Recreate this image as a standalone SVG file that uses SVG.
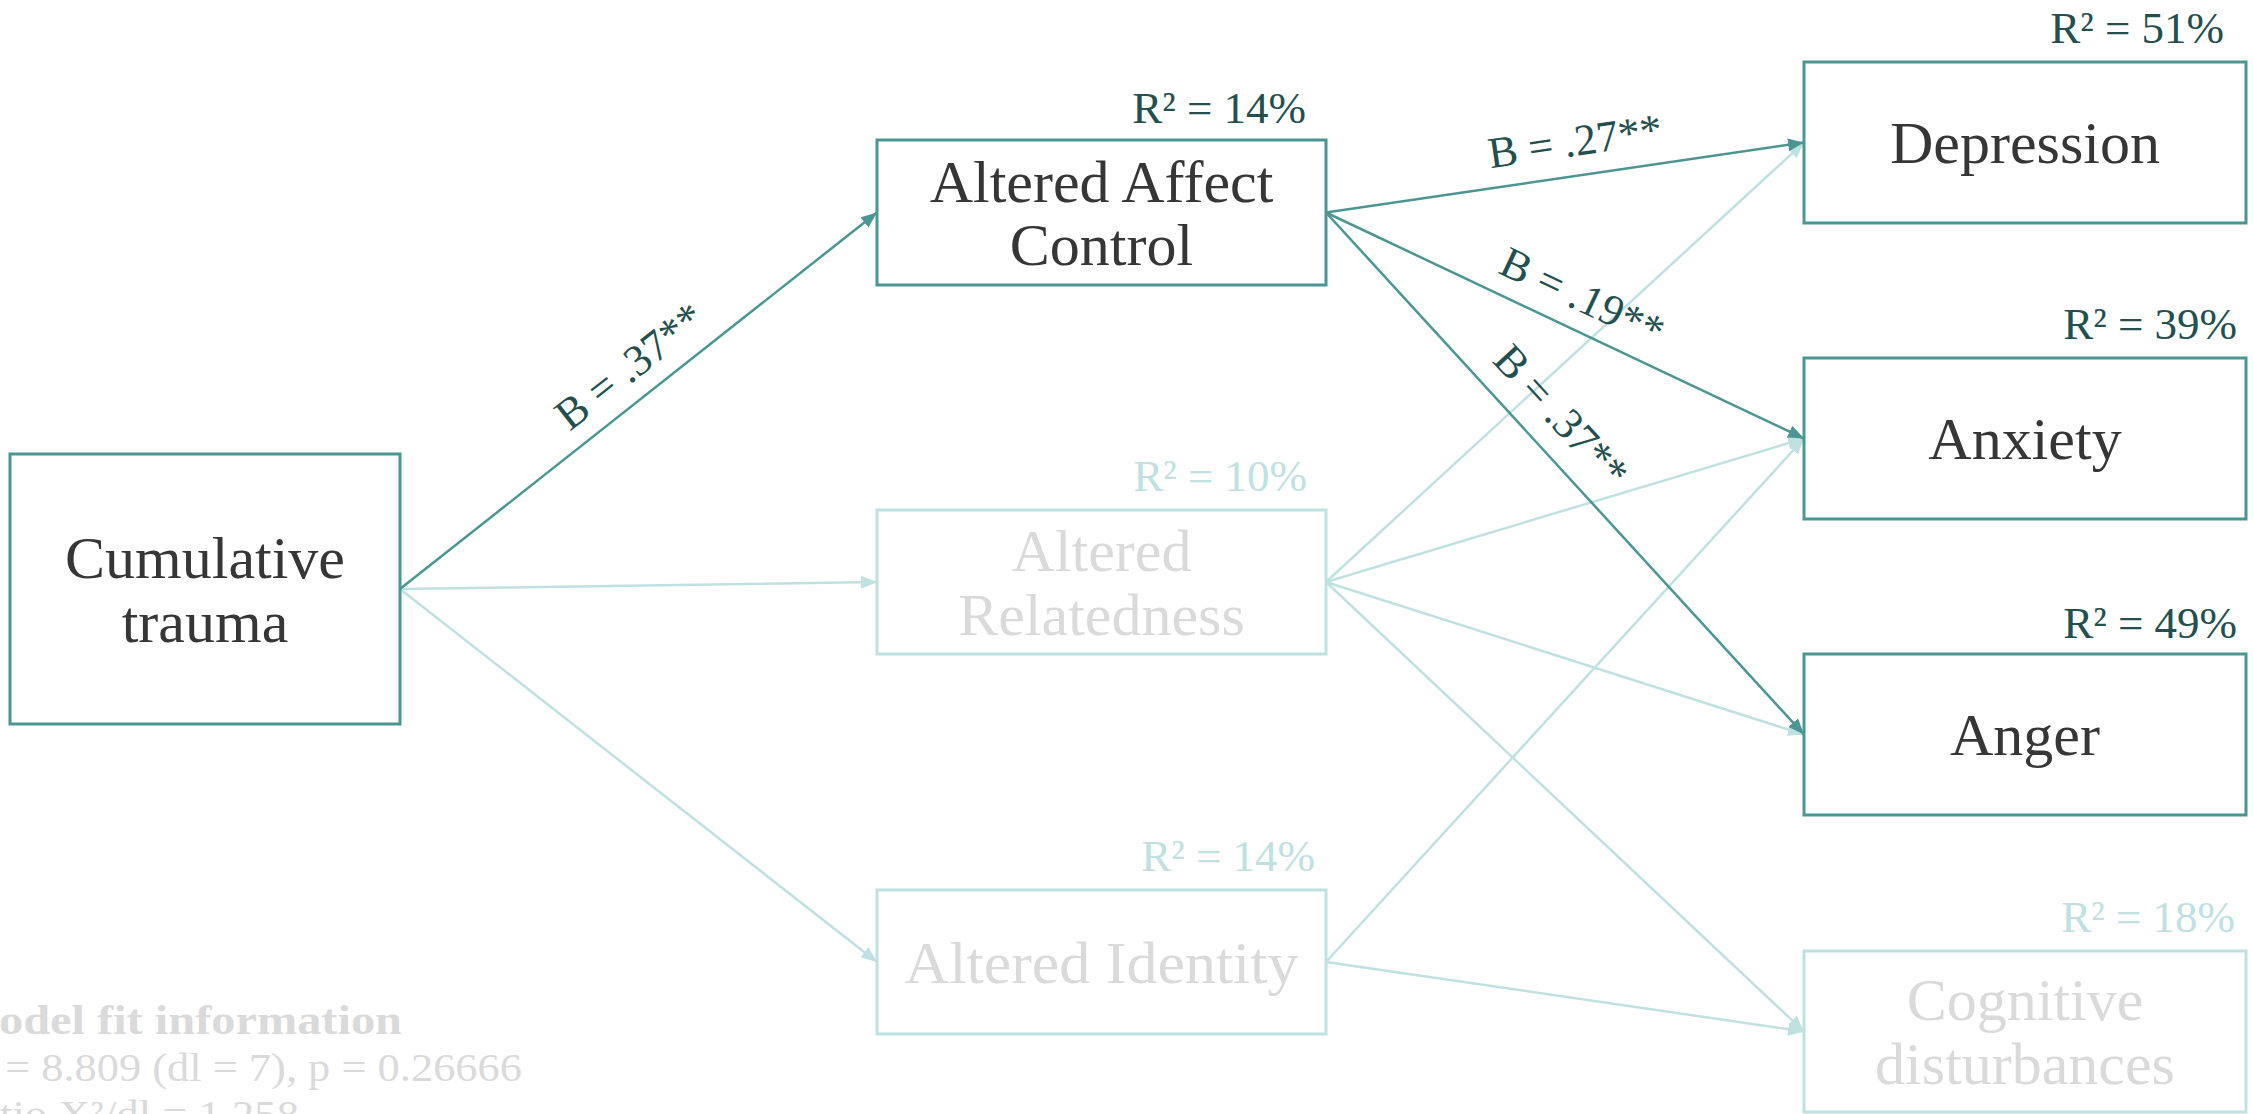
<svg xmlns="http://www.w3.org/2000/svg" width="2253" height="1114" viewBox="0 0 2253 1114">
  <style>
    .box { fill: #ffffff; stroke-width: 3; }
    .strong { stroke: #4b9693; }
    .weak { stroke: #bfe1e2; }
    .lbl { font-family: "Liberation Serif", "Times New Roman", serif; font-size: 60px; text-anchor: middle; }
    .lbl-on { fill: #363636; }
    .lbl-off { fill: #dadada; }
    .r2 { font-family: "Liberation Serif", "Times New Roman", serif; font-size: 45px; text-anchor: end; }
    .r2-on { fill: #234f4e; }
    .r2-off { fill: #bfe1e2; }
    .coef { font-family: "Liberation Serif", "Times New Roman", serif; font-size: 44px; text-anchor: middle; fill: #234f4e; }
    .edge { fill: none; stroke-width: 2.5; }
    .fit { font-family: "Liberation Serif", "Times New Roman", serif; fill: #dadada; }
  </style>
  <defs>
    <marker id="arrowStrong" markerUnits="userSpaceOnUse" markerWidth="17" markerHeight="14" refX="16" refY="6.5" orient="auto">
      <path d="M0,0 L16,6.5 L0,13 z" fill="#4b9693"/>
    </marker>
    <marker id="arrowWeak" markerUnits="userSpaceOnUse" markerWidth="17" markerHeight="14" refX="16" refY="6.5" orient="auto">
      <path d="M0,0 L16,6.5 L0,13 z" fill="#bfe1e2"/>
    </marker>
  </defs>

  <rect width="2253" height="1114" fill="#ffffff"/>

  <g id="connectors">
    <path class="edge weak" d="M400,589 L877,582" marker-end="url(#arrowWeak)"/>
    <path class="edge weak" d="M400,589 L877,962" marker-end="url(#arrowWeak)"/>
    <path class="edge weak" d="M1326,582 L1804,142.5" marker-end="url(#arrowWeak)"/>
    <path class="edge weak" d="M1326,582 L1804,438.5" marker-end="url(#arrowWeak)"/>
    <path class="edge weak" d="M1326,582 L1804,734.5" marker-end="url(#arrowWeak)"/>
    <path class="edge weak" d="M1326,582 L1804,1031.5" marker-end="url(#arrowWeak)"/>
    <path class="edge weak" d="M1326,962 L1804,438.5" marker-end="url(#arrowWeak)"/>
    <path class="edge weak" d="M1326,962 L1804,1031.5" marker-end="url(#arrowWeak)"/>

    <path class="edge strong" d="M400,589 L877,212.5" marker-end="url(#arrowStrong)"/>
    <path class="edge strong" d="M1326,212.5 L1804,142.5" marker-end="url(#arrowStrong)"/>
    <path class="edge strong" d="M1326,212.5 L1804,438.5" marker-end="url(#arrowStrong)"/>
    <path class="edge strong" d="M1326,212.5 L1804,734.5" marker-end="url(#arrowStrong)"/>

    <text class="coef" transform="translate(649,391) rotate(-38.2)" y="-17">B = .37**</text>
    <text class="coef" transform="translate(1580,175.5) rotate(-8.3)" y="-20">B = .27**</text>
    <text class="coef" transform="translate(1568,327) rotate(25.3)" y="-19">B = .19**</text>
    <text class="coef" transform="translate(1535,440) rotate(47.5)" y="-21">B = .37**</text>
  </g>

  <g id="node-cumulative-trauma">
    <rect class="box strong" x="10" y="454" width="390" height="270"/>
    <text class="lbl lbl-on" x="205" y="578">Cumulative</text>
    <text class="lbl lbl-on" x="205" y="642">trauma</text>
  </g>

  <g id="node-altered-affect-control">
    <rect class="box strong" x="877" y="140" width="449" height="145"/>
    <text class="lbl lbl-on" x="1101.5" y="202">Altered Affect</text>
    <text class="lbl lbl-on" x="1101.5" y="265">Control</text>
    <text class="r2 r2-on" x="1306" y="123">R² = 14%</text>
  </g>

  <g id="node-altered-relatedness">
    <rect class="box weak" x="877" y="510" width="449" height="144"/>
    <text class="lbl lbl-off" x="1101.5" y="571">Altered</text>
    <text class="lbl lbl-off" x="1101.5" y="635">Relatedness</text>
    <text class="r2 r2-off" x="1307" y="491">R² = 10%</text>
  </g>

  <g id="node-altered-identity">
    <rect class="box weak" x="877" y="890" width="449" height="144"/>
    <text class="lbl lbl-off" x="1101.5" y="983" textLength="394" lengthAdjust="spacingAndGlyphs">Altered Identity</text>
    <text class="r2 r2-off" x="1315" y="871">R² = 14%</text>
  </g>

  <g id="node-depression">
    <rect class="box strong" x="1804" y="62" width="442" height="161"/>
    <text class="lbl lbl-on" x="2025" y="163">Depression</text>
    <text class="r2 r2-on" x="2224" y="43">R² = 51%</text>
  </g>

  <g id="node-anxiety">
    <rect class="box strong" x="1804" y="358" width="442" height="161"/>
    <text class="lbl lbl-on" x="2025" y="459">Anxiety</text>
    <text class="r2 r2-on" x="2237" y="339">R² = 39%</text>
  </g>

  <g id="node-anger">
    <rect class="box strong" x="1804" y="654" width="442" height="161"/>
    <text class="lbl lbl-on" x="2025" y="755">Anger</text>
    <text class="r2 r2-on" x="2237" y="638">R² = 49%</text>
  </g>

  <g id="node-cognitive-disturbances">
    <rect class="box weak" x="1804" y="951" width="442" height="161"/>
    <text class="lbl lbl-off" x="2025" y="1020">Cognitive</text>
    <text class="lbl lbl-off" x="2025" y="1084">disturbances</text>
    <text class="r2 r2-off" x="2235" y="932">R² = 18%</text>
  </g>

  <g id="model-fit">
    <text class="fit" x="-1" y="1034" font-size="42" font-weight="bold" textLength="403" lengthAdjust="spacingAndGlyphs">odel fit information</text>
    <text class="fit" x="5" y="1081" font-size="40" textLength="517" lengthAdjust="spacingAndGlyphs">= 8.809 (dl = 7), p = 0.26666</text>
    <text class="fit" x="0" y="1128" font-size="40" textLength="299" lengthAdjust="spacingAndGlyphs">tio X²/dl = 1.258</text>
  </g>
</svg>
